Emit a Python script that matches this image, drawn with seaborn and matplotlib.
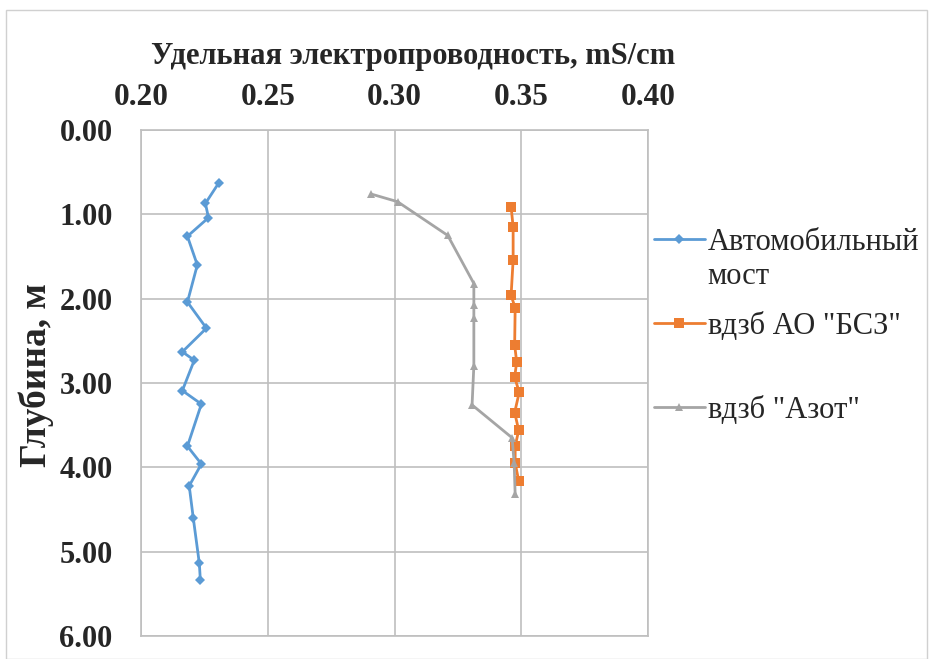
import matplotlib
import matplotlib.pyplot as plt
import pandas as pd
import seaborn as sns
from matplotlib.patches import Rectangle

matplotlib.use("Agg")

# Автомобильный мост
bridge_x = [0.2306, 0.2254, 0.2266, 0.2183, 0.2222, 0.2183, 0.2258, 0.2163, 0.2210,
            0.2163, 0.2238, 0.2183, 0.2238, 0.2190, 0.2206, 0.2230, 0.2234]
bridge_y = [0.63, 0.87, 1.04, 1.26, 1.60, 2.04, 2.35, 2.63, 2.73,
            3.09, 3.25, 3.75, 3.96, 4.22, 4.60, 5.14, 5.34]

# вдзб АО "БСЗ"
bsz_x = [0.3460, 0.3468, 0.3468, 0.3460, 0.3476, 0.3474, 0.3482, 0.3474, 0.3492,
         0.3474, 0.3490, 0.3476, 0.3476, 0.3490]
bsz_y = [0.91, 1.15, 1.54, 1.96, 2.11, 2.55, 2.75, 2.93, 3.11,
         3.35, 3.56, 3.75, 3.95, 4.16]

# вдзб "Азот"
azot_x = [0.2909, 0.3012, 0.3210, 0.3313, 0.3313, 0.3313, 0.3313, 0.3306, 0.3464, 0.3472, 0.3476]
azot_y = [0.76, 0.85, 1.25, 1.82, 2.07, 2.23, 2.80, 3.26, 3.65, 3.95, 4.32]

labels = ["Автомобильный", 'вдзб АО "БСЗ"', 'вдзб "Азот"']
label_extra = "мост"
colors = ["#5B9BD5", "#ED7D31", "#A5A5A5"]
markers = ["D", "s", "^"]
marker_sizes = [5, 7, 6]

x_ticks = [0.20, 0.25, 0.30, 0.35, 0.40]
y_ticks = [0, 1, 2, 3, 4, 5, 6]

sns.set_theme(style="white")
plt.rcParams["font.family"] = ["Liberation Serif", "DejaVu Serif"]

fig = plt.figure(figsize=(9.31, 6.59), dpi=100)
ax = fig.add_axes([0.1515, 0.0349, 0.5445, 0.7678])

series = [(bridge_x, bridge_y), (bsz_x, bsz_y), (azot_x, azot_y)]
for (xs, ys), lab, col, mk, ms in zip(series, labels, colors, markers, marker_sizes):
    df = pd.DataFrame({"x": xs, "y": ys})
    sns.lineplot(data=df, x="x", y="y", sort=False, estimator=None, ax=ax,
                 color=col, lw=2, marker=mk, markersize=ms, markeredgewidth=0,
                 label=lab)

ax.set_xlim(0.20, 0.40)
ax.set_ylim(6, 0)
ax.set_xticks(x_ticks)
ax.set_yticks(y_ticks)
ax.set_xticklabels([f"{v:.2f}" for v in x_ticks], fontsize=22.5, fontweight="bold")
ax.set_yticklabels([f"{v:.2f}" for v in y_ticks], fontsize=22, fontweight="bold")
ax.xaxis.tick_top()
ax.xaxis.set_label_position("top")
ax.tick_params(axis="x", length=0, pad=13)
ax.tick_params(axis="y", length=0, pad=20.5)
ax.set_xlabel("Удельная электропроводность, mS/cm", fontsize=22, fontweight="bold", labelpad=14)
ax.xaxis.label.set_x(0.537)
ax.set_ylabel("Глубина, м", fontsize=27, fontweight="bold", labelpad=3.5)
ax.yaxis.label.set_y(0.516)
ax.grid(True, color="#BFBFBF", lw=1.2)
for s in ax.spines.values():
    s.set_color("#BFBFBF")
    s.set_linewidth(1.2)

leg = ax.legend(loc="upper left", bbox_to_anchor=(0.982, 0.837), frameon=False,
                fontsize=22, handlelength=1.65, handletextpad=0.1, labelspacing=1.8,
                borderaxespad=0.3, borderpad=0.2)
fig.canvas.draw()
leg_text = leg.get_texts()[0]
ax.annotate(label_extra, xy=(0, 0), xycoords=leg_text, xytext=(0, -4),
            textcoords="offset points", va="top", ha="left", fontsize=22,
            zorder=10, annotation_clip=False)

fig.patches.append(Rectangle((0.006, 0.0), 0.99, 0.985, transform=fig.transFigure,
                             fill=False, edgecolor="#D0D0D0", lw=1))

fig.savefig("out.png", dpi=100)
